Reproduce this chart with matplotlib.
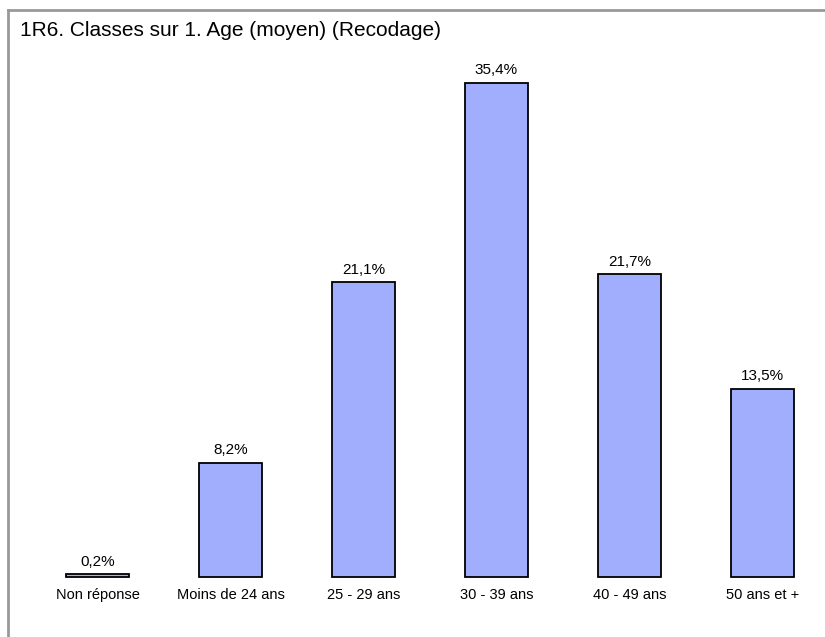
import matplotlib.pyplot as plt
from matplotlib import font_manager
from matplotlib.lines import Line2D

# ==== Data ====
categories = ['Non réponse', 'Moins de 24 ans', '25 - 29 ans', '30 - 39 ans', '40 - 49 ans', '50 ans et +']
values = [0.2, 8.2, 21.1, 35.4, 21.7, 13.5]
value_labels = ['0,2%', '8,2%', '21,1%', '35,4%', '21,7%', '13,5%']
title = '1R6. Classes sur 1. Age (moyen) (Recodage)'

# narrow font if present
names = {f.name for f in font_manager.fontManager.ttflist}
font = 'Liberation Sans Narrow' if 'Liberation Sans Narrow' in names else 'Liberation Sans'
plt.rcParams['font.family'] = [font, 'DejaVu Sans']

fig = plt.figure(figsize=(8.25, 6.37), dpi=100)
ax = fig.add_axes([0, 0, 1, 1])

x = list(range(len(categories)))
ax.bar(x, values, width=0.47, color='#a1aefe', edgecolor='black', linewidth=1.3)

for xi, v, lab in zip(x, values, value_labels):
    ax.annotate(lab, (xi, v), xytext=(0, 4), textcoords='offset points',
                ha='center', va='bottom', fontsize=11)

for xi, cat in zip(x, categories):
    ax.annotate(cat, (xi, 0), xytext=(0, -8), textcoords='offset points',
                ha='center', va='top', fontsize=10.5)

# place bars as in the reference (centre 97px, step 133px, baseline 60px from bottom)
ax.set_xlim(-97.5 / 133, (825 - 97.5) / 133)
ax.set_ylim(-60 / 13.96, (637 - 60) / 13.96)
ax.axis('off')

# frame
fig.add_artist(Line2D([8 / 825, 8 / 825], [0, 1 - 10 / 637], transform=fig.transFigure,
                      color='#999999', linewidth=2))
fig.add_artist(Line2D([8 / 825, 1], [1 - 10 / 637, 1 - 10 / 637], transform=fig.transFigure,
                      color='#999999', linewidth=2))

fig.text(20 / 825, 1 - 30 / 637, title, fontsize=15, ha='left', va='center')

fig.savefig('out.png', dpi=100)
